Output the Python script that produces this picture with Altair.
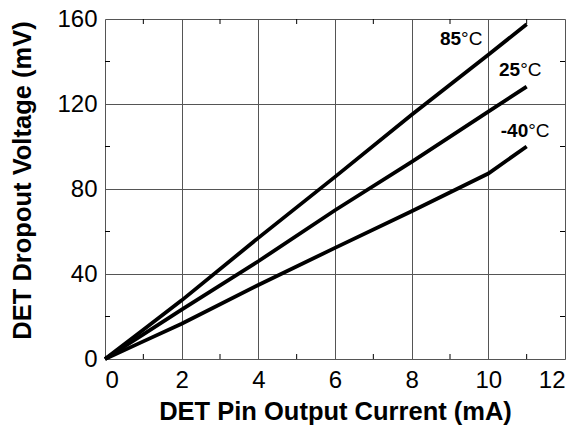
import altair as alt
import pandas as pd

# ---- data ----
current = [0, 1, 2, 4, 6, 8, 10, 11]
v_85 = [0, 13.8, 27.6, 57.0, 85.7, 114.9, 143.2, 157.5]
v_25 = [0, 11.6, 23.2, 46.0, 70.0, 92.8, 116.4, 128.2]
v_m40 = [0, 8.3, 16.6, 34.8, 52.3, 69.5, 87.3, 100.0]
series_names = ["85", "25", "-40"]

label_num = ["85", "25", "-40"]
label_x = [9.29, 10.83, 11.04]
label_y = [147.9, 133.3, 104.6]

x_ticks = [0, 2, 4, 6, 8, 10, 12]
y_ticks = [0, 40, 80, 120, 160]
x_minor = [1, 3, 5, 7, 9, 11]
y_minor = [20, 60, 100, 140]

W, H = 460, 340

rows = []
for name, vals in zip(series_names, [v_85, v_25, v_m40]):
    for c, v in zip(current, vals):
        rows.append({"series": name, "current": c, "voltage": v})
df = pd.DataFrame(rows)

lab_df = pd.DataFrame({"num": label_num, "current": label_x, "voltage": label_y, "unit": ["°C"] * 3})
xm_df = pd.DataFrame({"current": x_minor})
ym_df = pd.DataFrame({"voltage": y_minor})

x_scale = alt.Scale(domain=[0, 12], nice=False, zero=True)
y_scale = alt.Scale(domain=[0, 160], nice=False, zero=True)

x_axis = alt.Axis(
    values=x_ticks, grid=True, gridColor="#555555", gridWidth=1, domain=False, ticks=False,
    labelFontSize=24, labelColor="black", labelPadding=9, labelFont="Liberation Sans",
    title="DET Pin Output Current (mA)", titleFontSize=25.5, titleFontWeight="bold",
    titleColor="black", titleFont="Liberation Sans", titleBaseline="alphabetic", titleY=60,
)
y_axis = alt.Axis(
    values=y_ticks, grid=True, gridColor="#555555", gridWidth=1, domain=False, ticks=False,
    labelFontSize=24, labelColor="black", labelPadding=8, labelFont="Liberation Sans",
    title="DET Dropout Voltage (mV)", titleFontSize=25.5, titleFontWeight="bold",
    titleColor="black", titleFont="Liberation Sans", titleBaseline="alphabetic",
    titleX=-75, titleY=161,
)

X = lambda: alt.X("current:Q", scale=x_scale, axis=x_axis)
Y = lambda: alt.Y("voltage:Q", scale=y_scale, axis=y_axis)

lines = alt.Chart(df).mark_line(color="black", strokeWidth=3.8).encode(
    x=X(), y=Y(), detail="series:N"
)

tick_style = dict(color="black", strokeWidth=1)
minor_bottom = alt.Chart(xm_df).mark_rule(**tick_style).encode(
    x=X(), y=alt.value(H), y2=alt.value(H - 5)
)
minor_top = alt.Chart(xm_df).mark_rule(**tick_style).encode(
    x=X(), y=alt.value(0), y2=alt.value(5)
)
minor_left = alt.Chart(ym_df).mark_rule(**tick_style).encode(
    y=Y(), x=alt.value(0), x2=alt.value(5)
)
minor_right = alt.Chart(ym_df).mark_rule(**tick_style).encode(
    y=Y(), x=alt.value(W), x2=alt.value(W - 5)
)

num_text = alt.Chart(lab_df).mark_text(
    align="right", baseline="alphabetic", fontSize=19, fontWeight="bold",
    font="Liberation Sans", color="black"
).encode(x=X(), y=Y(), text="num:N")
unit_text = alt.Chart(lab_df).mark_text(
    align="left", baseline="alphabetic", fontSize=19, fontWeight="normal",
    font="Liberation Sans", color="black"
).encode(x=X(), y=Y(), text="unit:N")

chart = alt.layer(
    lines, minor_bottom, minor_top, minor_left, minor_right, num_text, unit_text
).properties(
    width=W, height=H,
    autosize=alt.AutoSizeParams(type="none"),
    padding={"left": 97, "top": 11, "right": 7, "bottom": 66},
).configure_view(
    stroke="black", strokeWidth=2
).configure(background="white", font="Liberation Sans")

chart.save("out.html", embed_options={"renderer": "svg", "actions": False})
